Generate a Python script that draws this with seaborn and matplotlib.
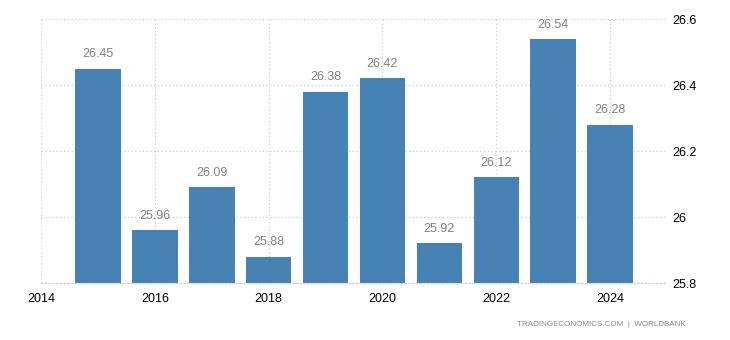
import matplotlib
matplotlib.use("Agg")
import matplotlib.pyplot as plt
import seaborn as sns
import pandas as pd

years = [2015, 2016, 2017, 2018, 2019, 2020, 2021, 2022, 2023, 2024]
values = [26.45, 25.96, 26.09, 25.88, 26.38, 26.42, 25.92, 26.12, 26.54, 26.28]
xticks = [2014, 2016, 2018, 2020, 2022, 2024]
yticks = [25.8, 26.0, 26.2, 26.4, 26.6]
ytick_labels = ["25.8", "26", "26.2", "26.4", "26.6"]

sns.set_style("white")
plt.rcParams['font.family'] = ['Liberation Sans', 'DejaVu Sans']

df = pd.DataFrame({"year": years, "value": values})

fig = plt.figure(figsize=(7.3, 3.4), dpi=100)
ax = fig.add_axes([0.0562, 0.1676, 0.8575, 0.7764])

sns.barplot(data=df, x="year", y="value", native_scale=True, color="#4682b4",
            saturation=1, width=0.8, linewidth=0, edgecolor="none", ax=ax, zorder=2)

ax.set_xlim(2014, 2025)
ax.set_ylim(25.8, 26.6)
ax.set_xticks(xticks)
ax.set_xticklabels([str(t) for t in xticks], fontsize=9, color="black")
ax.set_yticks(yticks)
ax.set_yticklabels(ytick_labels, fontsize=9, color="black")
ax.yaxis.tick_right()
ax.tick_params(axis="y", length=0, pad=4)
ax.tick_params(axis="x", length=3, color="#cccccc", pad=4)
ax.set_xlabel("")
ax.set_ylabel("")

ax.grid(True, axis="both", linestyle=(0, (1, 2)), color="#cccccc", linewidth=0.9, zorder=0)
ax.set_axisbelow(True)
for s in ["top", "right", "left"]:
    ax.spines[s].set_visible(False)
ax.spines["bottom"].set_visible(True)
ax.spines["bottom"].set_linestyle((0, (1, 2)))
ax.spines["bottom"].set_color("#cccccc")
ax.spines["bottom"].set_linewidth(0.9)

for c in ax.containers:
    ax.bar_label(c, labels=[f"{v:.2f}" for v in values], padding=6,
                 fontsize=9, color="#808080")

fig.text(0.939, 0.047, "TRADINGECONOMICS.COM  |  WORLDBANK", ha="right", va="center",
         fontsize=5.8, color="#888888")

fig.savefig("out.png", dpi=100)
